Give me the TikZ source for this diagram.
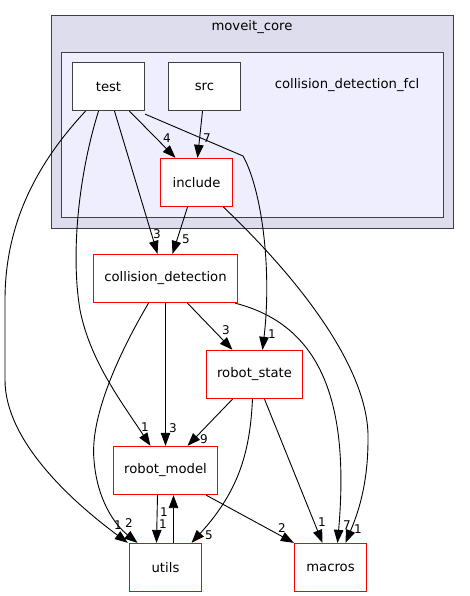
\documentclass[tikz,border=0pt]{standalone}
\usepackage{fontspec}
\setmainfont{DejaVu Sans}
\usetikzlibrary{arrows.meta}
\definecolor{outerfill}{HTML}{DDDDEE}
\definecolor{innerfill}{HTML}{EEEEFF}
\definecolor{framegray}{HTML}{404040}
\begin{document}
\begin{tikzpicture}[x=1pt, y=-1pt,
    dirbox/.style={draw=framegray, fill=white, line width=1.3pt, rectangle, minimum width=72pt, minimum height=48pt, inner sep=0pt, font=\fontsize{13.2}{15}\selectfont},
    reddir/.style={dirbox, draw=red},
    dep/.style={-{Triangle[length=13pt,width=9.5pt]}, line width=0.9pt},
    lbl/.style={inner sep=0pt, font=\fontsize{12}{13}\selectfont}]
    \useasboundingbox (0,0) rectangle (469,596);

    % clusters
    \draw[framegray, fill=outerfill, line width=1.3pt] (51.5,15.5) rectangle (453.5,228.5);
    \node (core) at (252,27) {\fontsize{13.2}{15}\selectfont moveit\_core};
    \draw[framegray, fill=innerfill, line width=1.3pt] (61.5,52.5) rectangle (443.5,217.5);
    \node (fcl) at (347,85) {\fontsize{13.2}{15}\selectfont collision\_detection\_fcl};

    % directories
    \node[dirbox] (test) at (108.5,86.5) {test};
    \node[dirbox] (src) at (204.5,86.5) {src};
    \node[reddir] (include) at (196.5,182.5) {include};
    \node[reddir, minimum width=144pt] (coll) at (165.5,278.5) {collision\_detection};
    \node[reddir, minimum width=96pt] (rstate) at (254.5,374.5) {robot\_state};
    \node[reddir, minimum width=104pt] (rmodel) at (165.5,470.5) {robot\_model};
    \node[reddir] (utils) at (165.5,567.5) {utils};
    \node[reddir] (macros) at (330.5,567.5) {macros};

    % dependencies
    \draw[dep] ([xshift=21pt]test.south) -- ([xshift=-21pt]include.north);
    \draw[dep] ([xshift=-2pt]src.south) -- ([xshift=1pt]include.north);
    \draw[dep] ([xshift=6pt]test.south) -- ([xshift=-8pt]coll.north);
    \draw[dep] ([xshift=-9pt]include.south) -- ([xshift=7pt]coll.north);
    \draw[dep] ([yshift=-3pt]test.south east) -- (243,156) .. controls (262,190) and (272,270) .. ([xshift=8pt]rstate.north);
    \draw[dep] ([xshift=-10pt]test.south) .. controls (80,170) and (70,250) .. (80,310) .. controls (90,360) and (120,400) .. ([xshift=-15pt]rmodel.north);
    \draw[dep] ([xshift=-23pt]test.south) .. controls (40,160) and (5,220) .. (5,300) -- (5,380) .. controls (5,440) and (70,500) .. ([xshift=-1pt]utils.north west);
    \draw[dep] ([xshift=-17pt]coll.south) .. controls (115,360) and (90,420) .. (94,460) .. controls (97,500) and (115,525) .. ([xshift=-28pt]utils.north);
    \draw[dep] ([xshift=-3pt]coll.south east) .. controls (320,325) and (350,400) .. ([xshift=7pt]macros.north);
    \draw[dep] ([xshift=27pt]include.south) .. controls (300,280) and (370,370) .. (368,440) .. controls (368,490) and (355,520) .. ([xshift=15pt]macros.north);
    \draw[dep] ([xshift=22pt]coll.south) -- ([xshift=-22pt]rstate.north);
    \draw[dep] (coll.south) -- (rmodel.north);
    \draw[dep] ([xshift=-22pt]rstate.south) -- ([xshift=22pt]rmodel.north);
    \draw[dep] ([xshift=-2pt]rstate.south) .. controls (250,450) and (240,490) .. ([xshift=26pt]utils.north);
    \draw[dep] ([xshift=10pt]rstate.south) -- ([xshift=-8pt]macros.north);
    \draw[dep] ([xshift=-8pt]rmodel.south) -- ([xshift=-9pt]utils.north);
    \draw[dep] ([xshift=8pt]utils.north) -- ([xshift=8pt]rmodel.south);
    \draw[dep] ([xshift=-12pt]rmodel.south east) -- (macros.north west);

    % counts
    \node[lbl] (n4) at (167,138) {4};
    \node[lbl] (n7) at (207,138) {7};
    \node[lbl] (n3a) at (157,234) {3};
    \node[lbl] (n5a) at (186,239) {5};
    \node[lbl] (n3b) at (226,330) {3};
    \node[lbl] (n1a) at (272,334) {1};
    \node[lbl] (n1b) at (145,427) {1};
    \node[lbl] (n3c) at (173,428) {3};
    \node[lbl] (n9) at (204,439) {9};
    \node[lbl] (n1c) at (118,525) {1};
    \node[lbl] (n2a) at (129,523) {2};
    \node[lbl] (n1d) at (164,512) {1};
    \node[lbl] (n1e) at (163,524) {1};
    \node[lbl] (n5b) at (209,535) {5};
    \node[lbl] (n2b) at (282,528) {2};
    \node[lbl] (n1f) at (322,522) {1};
    \node[lbl] (n7b) at (347,525) {7};
    \node[lbl] (n1g) at (358,529) {1};
\end{tikzpicture}
\end{document}
